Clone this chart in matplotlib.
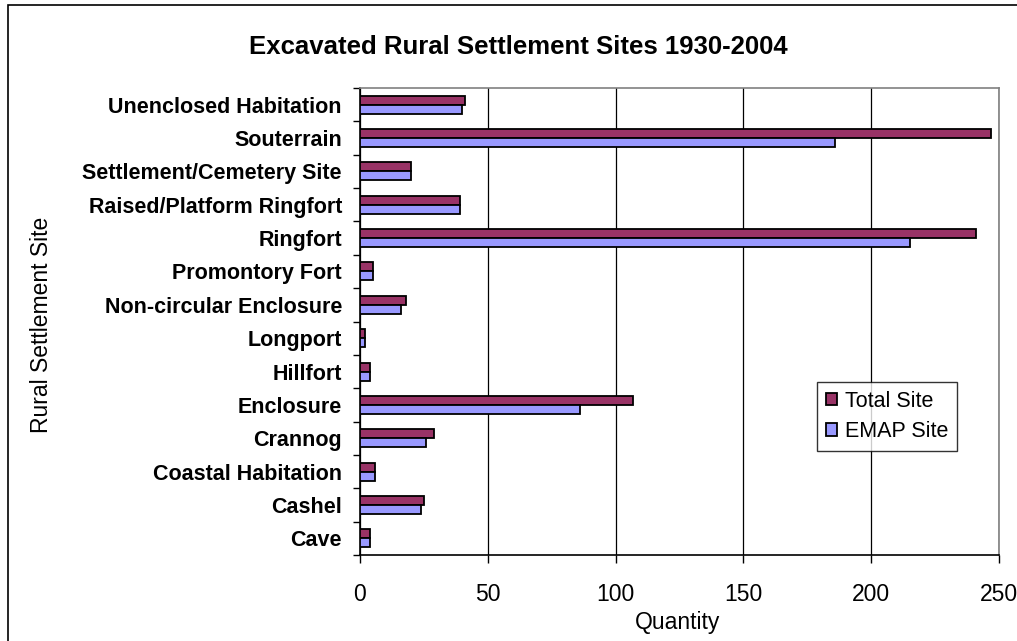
import matplotlib
matplotlib.use("Agg")
import matplotlib.pyplot as plt
import numpy as np
from matplotlib.patches import Rectangle

plt.rcParams['font.family'] = ['Liberation Sans', 'DejaVu Sans']

categories = ["Cave", "Cashel", "Coastal Habitation", "Crannog", "Enclosure",
              "Hillfort", "Longport", "Non-circular Enclosure", "Promontory Fort",
              "Ringfort", "Raised/Platform Ringfort", "Settlement/Cemetery Site",
              "Souterrain", "Unenclosed Habitation"]
total_site = [4, 25, 6, 29, 107, 4, 2, 18, 5, 241, 39, 20, 247, 41]
emap_site = [4, 24, 6, 26, 86, 4, 2, 16, 5, 215, 39, 20, 186, 40]
x_ticks = [0, 50, 100, 150, 200, 250]

fig = plt.figure(figsize=(10.17, 6.41), dpi=100)
W, H = 1017, 641
ax = fig.add_axes([360 / W, 1 - 555 / H, (999 - 360) / W, (555 - 88) / H])

# outer frame
fig.patches.append(Rectangle((8 / W, -0.01), 1.1, 1 - 5 / H + 0.01, transform=fig.transFigure,
                             fill=False, edgecolor='black', linewidth=1.2))

y = np.arange(len(categories))
h = 0.27
ax.barh(y + h / 2, total_site, height=h, color='#993366', edgecolor='black',
        linewidth=1.3, label='Total Site', zorder=3)
ax.barh(y - h / 2, emap_site, height=h, color='#9999FF', edgecolor='black',
        linewidth=1.3, label='EMAP Site', zorder=3)

ax.set_xlim(0, 250)
ax.set_ylim(-0.5, len(categories) - 0.5)
ax.set_xticks(x_ticks)
ax.set_xticklabels([str(t) for t in x_ticks], fontsize=16.5)
ax.set_yticks(y)
ax.set_yticklabels(categories, fontsize=15.5, fontweight='bold')
ax.tick_params(axis='y', which='major', length=0, pad=13)
ax.set_yticks(np.arange(-0.5, len(categories), 1), minor=True)
ax.tick_params(axis='y', which='minor', length=5, width=1, direction='out')
ax.tick_params(axis='x', which='major', length=6, width=1, direction='out', pad=14)

ax.grid(axis='x', color='black', linewidth=0.9, zorder=0)
for s in ['top', 'right']:
    ax.spines[s].set_color('#808080')
    ax.spines[s].set_linewidth(1.2)
for s in ['left', 'bottom']:
    ax.spines[s].set_color('black')
    ax.spines[s].set_linewidth(1.2)

ax.set_xlabel('Quantity', fontsize=16.5)
ax.xaxis.set_label_coords((678 - 360) / (999 - 360), -(623 - 555) / (555 - 88))
ax.set_ylabel('Rural Settlement Site', fontsize=16.5)
ax.yaxis.set_label_coords(-(360 - 42) / (999 - 360), (555 - 325) / (555 - 88))
ax.yaxis.label.set_va('center')
ax.xaxis.label.set_va('center')

fig.text(518 / W, 1 - 47 / H, 'Excavated Rural Settlement Sites 1930-2004', ha='center',
         va='center', fontsize=18.5, fontweight='bold')

leg = ax.legend(loc='upper left', bbox_to_anchor=((817 - 360) / (999 - 360), (555 - 382) / (555 - 88)),
                fontsize=15.5, frameon=True, fancybox=False, edgecolor='black',
                handlelength=0.55, handleheight=0.55, handletextpad=0.35, borderpad=0.4,
                labelspacing=0.45, borderaxespad=0)
leg.get_frame().set_linewidth(1.0)

fig.savefig('out.png', dpi=100, facecolor='white')
